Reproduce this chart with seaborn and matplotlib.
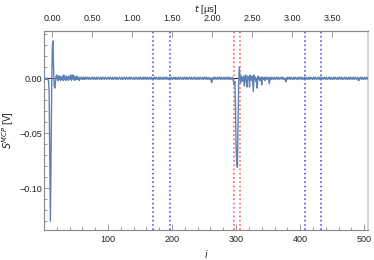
import numpy as np
import pandas as pd
import seaborn as sns
import matplotlib.pyplot as plt
from matplotlib.ticker import MultipleLocator, FixedLocator, FuncFormatter

# MCP signal in mV, one value per sample index i = 0 .. 506
signal_mv = [
    0, 0, -1, 0, -1, 0, -1, -2, -12, -75, -130, -70, -10, 28, 34, 8, -7, -9, -3, 2,      # 0
    3, 1, -2, 2, -1, 2, -2, 1, -1, 2, -2, 3, -1, 1, -2, 2, -1, 1, -2, 2,                  # 20
    1, -1, 3, -2, 2, 3, -1, 2, -2, 1, -1, 2, -1, 1, 0, -2, 1, 0, -1, 1,                   # 40
    0, -1, 1, -1, 0, 1, -1, 0, 1, 0, -1, 1, 0, -1, 0, 1, 0, -1, 1, 0,                     # 60
    -1, 0, 1, -1, 0, 1, 0, -1, 0, 1, -1, 0, 0, 1, -1, 0, 1, 0, -1, 0,                     # 80
    1, 0, -1, 1, 0, 0, -1, 1, 0, -1, 0, 1, 0, -1, 1, 0, -1, 0, 1, 0,                      # 100
    -1, 0, 1, -1, 0, 0, 1, -1, 0, 1, 0, -1, 0, 1, 0, -1, 1, 0, 0, -1,                     # 120
    0, 1, -1, 0, 1, 0, -1, 0, 1, -1, 0, 1, 0, -1, 0, 1, -1, 0, 1, 0,                      # 140
    -1, 1, 0, -1, 0, 1, 0, -1, 1, 0, -1, 0, 1, 0, -1, 1, 0, 0, -1, 1,                     # 160
    0, -1, 1, 0, -1, 0, 1, -1, 0, 1, 0, -1, 1, 0, -1, 0, 1, 0, -1, 1,                     # 180
    0, -1, 0, 1, 0, -1, 1, 0, -1, 0, 1, -1, 0, 1, 0, -1, 0, 1, -1, 0,                     # 200
    1, 0, -1, 1, 0, -1, 0, 1, 0, -1, 1, 0, -1, 0, 1, 0, -1, 1, 0, -1,                     # 220
    0, 1, -1, 0, 1, 0, -1, 0, 1, -1, 0, 1, 0, -1, 1, 0, -1, 0, 1, -1,                     # 240
    0, -2, -4, -1, 1, 0, -1, 1, 0, -1, 0, 1, -1, 0, 1, 0, -1, 1, 0, -1,                   # 260
    0, 1, -1, 0, 1, 0, -1, 1, 0, -1, 1, 0, -1, 0, 1, -1, -3, -6, -3, -25,                 # 280
    -60, -78, -81, -45, -5, 10, 3, -4, 2, -2, 1, -3, 2, -7, 1, 3, -2, -8, 2, -1,          # 300
    1, -8, 3, 0, -2, 2, -5, -12, 3, -1, 1, -3, 0, -9, 2, -1, 1, -2, 0, 1,                 # 320
    -6, 1, 0, -1, 1, -2, 0, 1, -1, 0, 1, -2, -5, 1, 0, -1, 1, 0, -1, 0,                   # 340
    1, -1, 0, 1, 0, -1, 1, 0, -1, 0, 1, 0, -1, 1, 0, -1, 0, -2, -3, 0,                    # 360
    1, -1, 0, 1, 0, -1, 1, 0, -1, 0, 1, -1, 0, 1, 0, -1, 0, 1, -1, 0,                     # 380
    1, 0, -1, 1, 0, -1, 0, 1, 0, -1, 1, 0, -1, 0, 1, -1, 0, 1, 0, -1,                     # 400
    0, 1, -1, 0, 1, 0, -1, 0, 1, 0, -1, 1, 0, -1, 1, 0, -1, 0, 1, 0,                      # 420
    -1, 1, 0, -1, 0, 1, 0, -1, 1, 0, -1, 0, 1, -1, 0, 1, 0, -1, 0, 1,                     # 440
    -1, 0, 1, 0, -1, 1, 0, -1, 0, 1, 0, -1, 1, 0, -1, 0, 1, -1, 0, 1,                     # 460
    0, -1, 0, 1, -1, 0, 1, 0, -1, 0, 1, -2, -2, 0, 1, 0, -1, 1, 0, -1,                    # 480
    0, 1, -1, 0, 1, 0, -1,                                                                # 500
]

# window markers (sample index)
blue_marks = [171, 197, 407, 432]
red_marks = [297, 306]

# time axis: t = (i - T0_INDEX) * DT_US
T0_INDEX = 12.5
DT_US = 0.008
t_ticks = [0.0, 0.5, 1.0, 1.5, 2.0, 2.5, 3.0, 3.5]

sns.set_style("ticks")
plt.rcParams['font.family'] = ['Liberation Sans', 'DejaVu Sans']
plt.rcParams['mathtext.fontset'] = 'dejavusans'
plt.rcParams['axes.unicode_minus'] = True

df = pd.DataFrame({'i': np.arange(len(signal_mv)), 'S': np.array(signal_mv) / 1000.0})

fig = plt.figure(figsize=(3.74, 2.60), dpi=100)
ax = fig.add_axes([44 / 374, 30 / 260, 324 / 374, 199 / 260])

ax.axhline(0, color='#333333', lw=0.8, zorder=1)
sns.lineplot(data=df, x='i', y='S', ax=ax, color='#5E81B5', lw=1.0, zorder=3)

for m in blue_marks:
    ax.axvline(m, color='#3a3aff', lw=1.1, ls=(0, (1, 1.8)), zorder=2)
for m in red_marks:
    ax.axvline(m, color='#ff4a4a', lw=1.1, ls=(0, (1, 1.8)), zorder=2)

ax.set_xlim(0, 506)
ax.set_ylim(-0.138, 0.043)

frame_col = '#8a8a8a'
for side in ['left', 'bottom', 'top']:
    ax.spines[side].set_color(frame_col)
    ax.spines[side].set_linewidth(0.8)
ax.spines['right'].set_color('#cccccc')
ax.spines['right'].set_linewidth(1.2)

ax.xaxis.set_major_locator(MultipleLocator(100))
ax.xaxis.set_minor_locator(MultipleLocator(20))
ax.yaxis.set_major_locator(FixedLocator([0.0, -0.05, -0.10]))
ax.yaxis.set_minor_locator(MultipleLocator(0.01))
ax.xaxis.set_major_formatter(FuncFormatter(lambda v, p: '' if v == 0 else f'{v:.0f}'))
ax.yaxis.set_major_formatter(FuncFormatter(lambda v, p: f'{v:.2f}'.replace('-', '\u2212')))

ax.tick_params(which='both', direction='in', color=frame_col, width=0.6,
               labelsize=6.5, labelcolor='#222222')
ax.tick_params(which='major', length=4)
ax.tick_params(which='minor', length=2)
ax.tick_params(axis='x', pad=3.5, top=False)
ax.tick_params(axis='y', pad=1.5, right=False)

top = ax.secondary_xaxis('top', functions=(lambda i: (i - T0_INDEX) * DT_US,
                                           lambda t: t / DT_US + T0_INDEX))
top.set_xticks(t_ticks)
top.xaxis.set_major_formatter(FuncFormatter(lambda v, p: f'{v:.2f}'))
top.tick_params(direction='in', length=4, width=0.6, color=frame_col,
                labelsize=6.5, labelcolor='#222222', pad=5.5)
top.spines['top'].set_color(frame_col)
top.spines['top'].set_linewidth(0.8)
top.set_xlabel(r'$t$ [μs]', fontsize=6.8, color='#222222', labelpad=2)

ax.set_xlabel(r'$i$', fontsize=7, color='#222222', labelpad=3)
ax.set_ylabel(r'$S^{MCP}$ [V]', fontsize=7, color='#222222', labelpad=2)

fig.savefig('out.png', dpi=100)
